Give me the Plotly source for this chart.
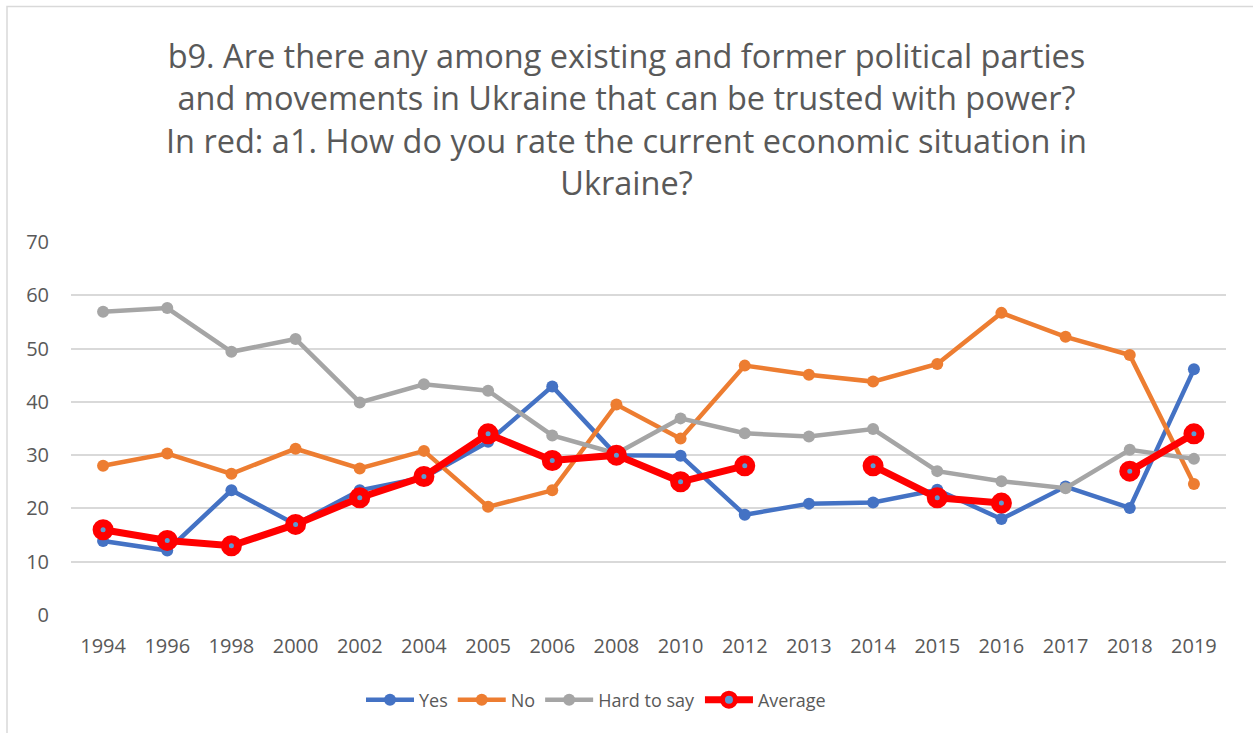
import plotly.graph_objects as go

years = ["1994", "1996", "1998", "2000", "2002", "2004", "2005", "2006", "2008",
         "2010", "2012", "2013", "2014", "2015", "2016", "2017", "2018", "2019"]
yes = [13.9, 12.1, 23.4, 17.0, 23.4, 25.8, 32.5, 42.9, 30.0, 29.9, 18.8, 20.9, 21.1, 23.5, 18.0, 24.1, 20.1, 46.1]
no = [28.0, 30.3, 26.5, 31.2, 27.5, 30.8, 20.3, 23.4, 39.5, 33.1, 46.8, 45.1, 43.8, 47.1, 56.7, 52.2, 48.8, 24.6]
hard = [56.9, 57.6, 49.4, 51.8, 39.9, 43.3, 42.1, 33.7, 30.3, 36.9, 34.1, 33.5, 34.9, 27.0, 25.1, 23.8, 31.0, 29.3]
average = [16, 14, 13, 17, 22, 26, 34, 29, 30, 25, 28, None, 28, 22, 21, None, 27, 34]

W, H = 1253, 733
L, R, T, B = 71, 27, 242, 118
pw, ph = W - L - R, H - T - B

def px(x):
    return (x - L) / pw

def py(y):
    return (H - B - y) / ph

fig = go.Figure()
series = [("Yes", yes, "#4472C4"), ("No", no, "#ED7D31"), ("Hard to say", hard, "#A5A5A5")]
for name, vals, col in series:
    fig.add_trace(go.Scatter(x=years, y=vals, name=name, mode="lines+markers",
                             line=dict(color=col, width=4.5),
                             marker=dict(color=col, size=12)))
fig.add_trace(go.Scatter(x=years, y=average, name="Average", mode="lines+markers",
                         line=dict(color="#FF0000", width=7),
                         marker=dict(color="#5B9BD5", size=13,
                                     line=dict(color="#FF0000", width=8)),
                         connectgaps=False))

fig.add_shape(type="rect", xref="paper", yref="paper",
              x0=px(7), x1=px(1262), y0=py(6.5), y1=py(745),
              line=dict(color="#D9D9D9", width=1.5), fillcolor="rgba(0,0,0,0)")

fig.update_layout(
    width=W, height=H,
    margin=dict(l=L, r=R, t=T, b=B, autoexpand=False),
    paper_bgcolor="white", plot_bgcolor="white",
    font=dict(family="Open Sans, sans-serif", color="#595959", size=18),
    title=dict(text="b9. Are there any among existing and former political parties<br>"
                    "and movements in Ukraine that can be trusted with power?<br>"
                    "In red: a1. How do you rate the current economic situation in<br>"
                    "Ukraine?",
               x=0.5, xanchor="center", xref="container", y=1 - 68 / H, yanchor="middle",
               font=dict(size=32.5, color="#595959")),
    xaxis=dict(type="category", range=[-0.5, len(years) - 0.5], showgrid=False, showline=False,
               ticks="", automargin=False, ticklabelstandoff=17,
               tickfont=dict(size=20, color="#595959")),
    yaxis=dict(range=[0, 70], dtick=10, showgrid=True, gridcolor="#D9D9D9", gridwidth=1.5,
               zeroline=False, showline=False, ticks="", ticklabelstandoff=21, automargin=False,
               tickfont=dict(size=20, color="#595959")),
    legend=dict(orientation="h", x=px(596), xanchor="center", y=py(700), yanchor="middle",
                itemwidth=48, font=dict(size=18, color="#595959")),
    showlegend=True,
)

fig.write_html("out.html", config={"displayModeBar": False})
with open("out.html", encoding="utf-8") as f:
    html = f.read()
html = html.replace("<body>", '<body style="margin:0">', 1)
with open("out.html", "w", encoding="utf-8") as f:
    f.write(html)
